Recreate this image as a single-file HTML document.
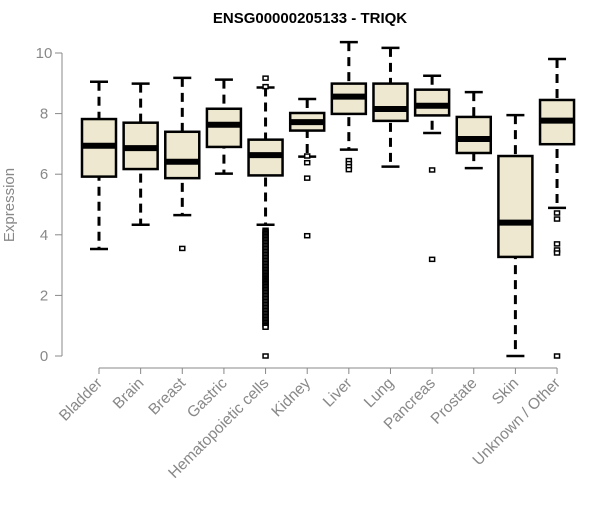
<!DOCTYPE html>
<html><head><meta charset="utf-8"><style>
body{margin:0;background:#fff;font-family:"Liberation Sans",Arial,sans-serif}
svg text{font-family:"Liberation Sans",Arial,sans-serif}
</style></head><body>
<svg id="chart" width="600" height="500">
<text x="310" y="23" text-anchor="middle" font-size="15" font-weight="bold">ENSG00000205133 - TRIQK</text>
<text transform="translate(14,205) rotate(-90)" text-anchor="middle" font-size="15" fill="#888">Expression</text>
<g id="plot"></g>
</svg>
<script>
const categories=["Bladder","Brain","Breast","Gastric","Hematopoietic cells","Kidney","Liver","Lung","Pancreas","Prostate","Skin","Unknown / Other"];
const lowWhisker=[3.53,4.33,4.65,6.02,4.33,6.58,6.81,6.25,7.36,6.20,0,4.89];
const q1=[5.92,6.17,5.87,6.9,5.96,7.44,7.99,7.76,7.94,6.70,3.27,6.99];
const median=[6.94,6.86,6.41,7.63,6.63,7.72,8.56,8.15,8.26,7.16,4.40,7.77];
const q3=[7.82,7.70,7.40,8.16,7.14,8.02,8.99,8.99,8.79,7.89,6.60,8.45];
const highWhisker=[9.05,8.99,9.18,9.12,8.86,8.48,10.36,10.17,9.25,8.71,7.95,9.80];
const outliers=[[],[],[3.55],[],[9.17,8.89,0,4.15,4.1,4.05,4.0,3.95,3.9,3.85,3.8,3.75,3.7,3.65,3.6,3.55,3.5,3.45,3.4,3.35,3.3,3.25,3.2,3.15,3.1,3.05,3.0,2.95,2.9,2.85,2.8,2.75,2.7,2.65,2.6,2.55,2.5,2.45,2.4,2.35,2.3,2.25,2.2,2.15,2.1,2.05,2.0,1.95,1.9,1.85,1.8,1.75,1.7,1.65,1.6,1.55,1.5,1.45,1.4,1.35,1.3,1.25,1.2,1.15,1.1,1.05,1.0,0.95],[6.6,6.38,5.87,3.97],[6.45,6.35,6.25,6.15],[],[6.14,3.19],[],[],[4.72,4.52,3.70,3.50,3.40,0]];
const yTicks=[0,2,4,6,8,10];
const NS="http://www.w3.org/2000/svg";
const g=document.getElementById('plot');
const y=v=>356-v*30.3;
const x=i=>99+i*41.64;
function mk(t,a){const e=document.createElementNS(NS,t);for(const k in a)e.setAttribute(k,a[k]);g.appendChild(e);return e;}
let ax=mk('line',{x1:62,x2:62,y1:y(10),y2:y(0),stroke:'#888'});


yTicks.forEach(t=>{
 const l=mk('line',{x1:55,x2:62,y1:y(t),y2:y(t),stroke:'#888'});
 
 
 const tx=mk('text',{x:44,y:y(t)+5,'text-anchor':'middle','font-size':15,fill:'#888'});tx.textContent=t;
 
 
});
let xa=mk('line',{x1:x(0),x2:x(11),y1:368,y2:368,stroke:'#888'});


categories.forEach((c,i)=>{
 const cx=x(i),w=17;
 const tk=mk('line',{x1:cx,x2:cx,y1:368,y2:374,stroke:'#888'});
 
 
 const lb=mk('text',{x:0,y:0,'text-anchor':'end','font-size':15.5,fill:'#888',transform:`translate(${cx+4},${384}) rotate(-45)`});lb.textContent=c;
 
 
 const wh=mk('line',{x1:cx,x2:cx,y1:y(highWhisker[i]),y2:y(lowWhisker[i]),stroke:'#000','stroke-width':3,'stroke-dasharray':'9,6'});
 
 
 [highWhisker[i],lowWhisker[i]].forEach(v=>{const cap=mk('line',{x1:cx-9,x2:cx+9,y1:y(v),y2:y(v),stroke:'#000','stroke-width':2.5});
  
  });
 const b=mk('rect',{x:cx-w,y:y(q3[i]),width:2*w,height:y(q1[i])-y(q3[i]),fill:'#ede8cf',stroke:'#000','stroke-width':2.5});
 
 
 const m=mk('line',{x1:cx-w,x2:cx+w,y1:y(median[i]),y2:y(median[i]),stroke:'#000','stroke-width':6});
 
 
 outliers[i].forEach(v=>{const o=mk('rect',{x:cx-2.5,y:y(v)-2,width:5,height:4,fill:'#fff',stroke:'#000','stroke-width':1.5});
  
  });
});
</script>
</body></html>
